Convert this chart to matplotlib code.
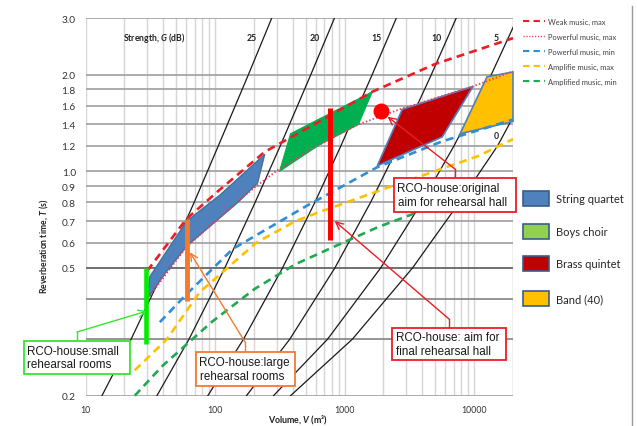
import matplotlib
matplotlib.use("Agg")
import matplotlib.pyplot as plt
from matplotlib.patches import Polygon, Rectangle
from matplotlib.lines import Line2D
from matplotlib.ticker import NullLocator, NullFormatter

plt.rcParams['font.family'] = ['Lato', 'DejaVu Sans']
plt.rcParams['mathtext.fontset'] = 'custom'
plt.rcParams['mathtext.rm'] = 'Lato:bold'
plt.rcParams['mathtext.it'] = 'Lato:bold:italic'
plt.rcParams['mathtext.bf'] = 'Lato:bold'

# ---------------- data ----------------
# Strength lines G (dB): volume V (m3) at reverberation time T (s)
strength_T = [0.2, 0.3, 0.5, 0.8, 1.2, 2.0, 3.0]
strength_V_25 = [13.4, 22.5, 41, 69, 106, 181, 274]
strength_V_20 = [35.6, 63, 119, 204, 319, 549, 836]
strength_V_15 = [88, 166, 332, 590, 937, 1635, 2510]
strength_V_10 = [175, 378, 842, 1589, 2610, 4680, 7282]
strength_V_5 = [283, 740, 1900, 3950, 7000, 13586, 21600]
strength_V_0 = [383, 1150, 3350, 7700, 15200, 30000, 50000]
strength_levels = [25, 20, 15, 10, 5, 0]

# Recommended reverberation-time limits
weak_max_V = [30, 60, 110, 242, 641, 1640, 5010, 20000]
weak_max_T = [0.49, 0.71, 0.88, 1.15, 1.43, 1.77, 2.16, 2.60]
powerful_max_V = [30, 60.5, 150, 209, 316, 640, 1280, 2790, 9840, 20000]
powerful_max_T = [0.40, 0.583, 0.806, 0.90, 1.02, 1.21, 1.40, 1.57, 1.84, 2.05]
powerful_min_V = [37.5, 58.5, 137, 508, 1790, 5680, 20000]
powerful_min_T = [0.339, 0.409, 0.573, 0.780, 1.03, 1.24, 1.45]
amplified_max_V = [24, 42.5, 76, 209, 419, 641, 2340, 10770, 20000]
amplified_max_T = [0.24, 0.30, 0.42, 0.60, 0.70, 0.747, 0.90, 1.116, 1.26]
amplified_min_V = [24, 39, 94, 202, 419, 851, 1824, 3706]
amplified_min_T = [0.20, 0.247, 0.339, 0.43, 0.514, 0.585, 0.671, 0.747]

# Ensemble areas
quartet_V = [31.4, 60.5, 109, 242, 213, 150, 60.5, 41, 30]
quartet_T = [0.47, 0.70, 0.843, 1.13, 0.92, 0.80, 0.585, 0.48, 0.40]
choir_V = [315, 383, 1640, 1280, 641]
choir_T = [1.0, 1.31, 1.77, 1.40, 1.21]
brass_V = [1790, 2790, 9840, 5680]
brass_T = [1.04, 1.56, 1.84, 1.28]
band_V = [7810, 12600, 20000, 20000]
band_T = [1.31, 1.97, 2.04, 1.43]

# RCO-house rooms
original_aim_V, original_aim_T = 1930, 1.54
small_rooms_V, small_rooms_T = 29.3, [0.29, 0.50]
large_rooms_V, large_rooms_T = 61, [0.395, 0.71]
final_hall_V, final_hall_T = 778, [0.612, 1.57]

ytick_vals = [0.2, 0.3, 0.4, 0.5, 0.6, 0.7, 0.8, 0.9, 1.0, 1.2, 1.4, 1.6, 1.8, 2.0, 3.0]
ytick_labels = ['0.2', '', '', '0.5', '0.6', '0.7', '0.8', '0.9', '1.0',
                '1.2', '1.4', '1.6', '1.8', '2.0', '3.0']
xtick_vals = [10, 100, 1000, 10000]
xtick_labels = ['10', '100', '1000', '10000']

legend_line_labels = ['Weak music, max', 'Powerful music, max', 'Powerful music, min',
                      'Amplifie music, max', 'Amplified music, min']
legend_patch_labels = ['String quartet', 'Boys choir', 'Brass quintet', 'Band (40)']

# ---------------- figure ----------------
W, H = 637, 427
fig = plt.figure(figsize=(W / 100, H / 100), dpi=100)
L, R, TOP, BOT = 85.5, 513, 19.2, 396.7
ax = fig.add_axes([L / W, 1 - BOT / H, (R - L) / W, (BOT - TOP) / H])
ax.set_xscale('log')
ax.set_yscale('log')
ax.set_xlim(10, 20000)
ax.set_ylim(0.2, 3.0)
for s in ax.spines.values():
    s.set_visible(False)

# grid
for dec in [10, 100, 1000, 10000]:
    for m in range(1, 10):
        v = dec * m
        if v <= 20000:
            ax.axvline(v, color='#d6d6d6', lw=1.0, zorder=0)
ax.axvline(20000, color='#d6d6d6', lw=1.0, zorder=0)
for t in ytick_vals:
    if t == 0.5:
        c = '#666666'
    elif t in (0.3, 0.4):
        c = '#8c8c8c'
    else:
        c = '#a6a6a6'
    ax.axhline(t, color=c, lw=1.3, zorder=0.5)

ax.yaxis.set_minor_locator(NullLocator())
ax.yaxis.set_minor_formatter(NullFormatter())
ax.xaxis.set_minor_locator(NullLocator())
ax.xaxis.set_minor_formatter(NullFormatter())
ax.set_yticks(ytick_vals)
ax.set_yticklabels(ytick_labels)
ax.set_xticks(xtick_vals)
ax.set_xticklabels(xtick_labels)
ax.tick_params(axis='y', length=0, pad=7, labelsize=7.3, labelcolor='#333333')
ax.tick_params(axis='x', length=0, pad=7, labelsize=6.3, labelcolor='#333333')

# strength lines
strength_sets = [strength_V_25, strength_V_20, strength_V_15,
                 strength_V_10, strength_V_5, strength_V_0]
for vs in strength_sets:
    ax.plot(vs, strength_T, color='#1a1a1a', lw=0.9, zorder=2)

# labels of strength lines
label_pos = {25: (192, 2.62), 20: (586, 2.62), 15: (1763, 2.62),
             10: (5110, 2.62), 5: (14800, 2.62), 0: (14800, 1.29)}
for g in strength_levels:
    x, y = label_pos[g]
    ax.text(x, y, str(g), ha='center', va='center', fontsize=6.3,
            fontweight='bold', color='#222222', zorder=3)
ax.text(33.7, 2.62, r'Strength, $G$ (dB)', ha='center', va='center',
        fontsize=6.2, fontweight='bold', color='#222222', zorder=3)

# ensemble areas
edge_blue = '#41719C'
ax.add_patch(Polygon(list(zip(quartet_V, quartet_T)), closed=True, fc='#4F81BD',
                     ec=edge_blue, lw=1.0, zorder=3))
ax.add_patch(Polygon(list(zip(choir_V, choir_T)), closed=True, fc='#00B050',
                     ec='#00B050', lw=0.8, zorder=3))
ax.add_patch(Polygon(list(zip(brass_V, brass_T)), closed=True, fc='#C00000',
                     ec='#4F81BD', lw=1.2, zorder=3))
ax.add_patch(Polygon(list(zip(band_V, band_T)), closed=True, fc='#FFC000',
                     ec='#4F81BD', lw=1.2, zorder=3, clip_on=False))

# limit curves
curves = [
    (weak_max_V, weak_max_T, '#EE1C25', (3, 2), 1.9),
    (powerful_max_V, powerful_max_T, '#F03A5F', (0.8, 1.2), 1.3),
    (powerful_min_V, powerful_min_T, '#2E8FD6', (3, 2), 1.9),
    (amplified_max_V, amplified_max_T, '#FFC000', (3, 2), 1.9),
    (amplified_min_V, amplified_min_T, '#22A852', (3, 2), 1.9),
]
for vs, ts, col, dash, lw in curves:
    ax.plot(vs, ts, color=col, lw=lw, dashes=dash, zorder=4, clip_on=False)

# RCO-house markers
ax.plot([original_aim_V], [original_aim_T], 'o', color='#FF0000', ms=10.5, zorder=5)
ax.plot([small_rooms_V] * 2, small_rooms_T, color='#00EE00', lw=3.3,
        solid_capstyle='butt', zorder=5)
ax.plot([large_rooms_V] * 2, large_rooms_T, color='#F47A30', lw=3.5,
        solid_capstyle='butt', zorder=5)
ax.plot([final_hall_V] * 2, final_hall_T, color='#FF0000', lw=3.6,
        solid_capstyle='butt', zorder=5)


def ax_x(px):
    return (px - L) / (R - L)


def ax_y(py):
    return (BOT - py) / (BOT - TOP)


def callout(text, color, box, elbow_x, elbow_top, target):
    x0, y0, x1, y1 = ax_x(box[0]), ax_y(box[3]), ax_x(box[2]), ax_y(box[1])
    ax.add_patch(Rectangle((x0, y0), x1 - x0, y1 - y0, transform=ax.transAxes,
                           fc='white', ec=color, lw=1.3, zorder=7, clip_on=False))
    ax.text(x0 + ax_x(L + 3.5), (y0 + y1) / 2, text, transform=ax.transAxes,
            ha='left', va='center', fontsize=8.4, family='Liberation Sans',
            color='#1a1a1a', linespacing=1.15, zorder=8, clip_on=False)
    ex = ax_x(elbow_x)
    ax.add_line(Line2D([ex, ex], [y1, ax_y(elbow_top)], transform=ax.transAxes,
                       color=color, lw=1.0, zorder=6, clip_on=False))
    ax.annotate('', xy=target, xycoords='data',
                xytext=(ex, ax_y(elbow_top)), textcoords='axes fraction',
                arrowprops=dict(arrowstyle='->', color=color, lw=1.0,
                                shrinkA=0, shrinkB=0, mutation_scale=13),
                zorder=6, annotation_clip=False)


callout('RCO-house:small\nrehearsal rooms', '#33E633', (24, 342, 130, 375),
        77, 333, (29.8, 0.367))
callout('RCO-house:large\nrehearsal rooms', '#F47A30', (196, 353, 295, 387),
        245, 343, (64, 0.56))
callout('RCO-house:original\naim for rehearsal hall', '#EE1C25', (394, 179, 516, 213),
        455, 170, (2150, 1.48))
callout('RCO-house: aim for\nfinal rehearsal hall', '#EE1C25', (392, 329, 506, 361),
        449, 320, (840, 0.70))

# axis titles
fig.text(44 / W, 1 - 246 / H, r'Reverberation time, $T$ (s)', rotation=90,
         ha='center', va='center', fontsize=6.2, fontweight='bold', color='#222222')
fig.text(298 / W, 1 - 420 / H, r'Volume, $V$ (m³)', ha='center', va='center',
         fontsize=6.4, fontweight='bold', color='#222222')

# line legend
line_styles = [(c[2], c[3], c[4]) for c in curves]
for i, (lab, (col, dash, lw)) in enumerate(zip(legend_line_labels, line_styles)):
    y = 1 - (22 + 15 * i) / H
    fig.add_artist(Line2D([523 / W, 545 / W], [y, y], color=col, lw=lw * 0.8,
                          dashes=dash))
    fig.text(548 / W, y, lab, ha='left', va='center', fontsize=5.4, color='#404040')

# area legend
patch_colors = ['#4F81BD', '#92D050', '#C00000', '#FFC000']
patch_rows = [199.5, 232.5, 264.5, 299.5]
for lab, col, yc in zip(legend_patch_labels, patch_colors, patch_rows):
    fig.add_artist(Rectangle((523 / W, 1 - (yc + 7.5) / H), 26 / W, 15 / H,
                             fc=col, ec='#385D8A', lw=1.2, transform=fig.transFigure))
    fig.text(556 / W, 1 - yc / H, lab, ha='left', va='center', fontsize=8,
             color='#262626')

# frame line on the right
fig.add_artist(Line2D([632 / W, 632 / W], [0, 1 - 7 / H], color='#9a9a9a', lw=1.0))

fig.savefig('out.png', dpi=100)
